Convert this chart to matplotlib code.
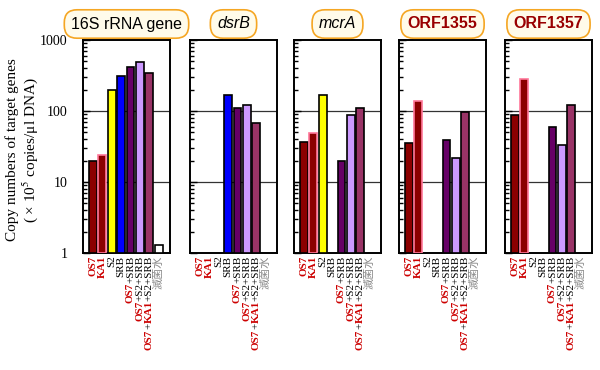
import re
import numpy as np
import matplotlib
matplotlib.use("Agg")
import matplotlib.pyplot as plt
from matplotlib.ticker import LogLocator, NullFormatter, FixedLocator, FixedFormatter

# data (x 10^5 copies / ul DNA)
categories = ["OS7", "KA1", "S2", "SRB", "OS7+SRB", "OS7+S2+SRB", "OS7+KA1+S2+SRB", "滅菌水"]
genes = ["16S rRNA gene", "dsrB", "mcrA", "ORF1355", "ORF1357"]
nan = np.nan
rrna_16s = [20, 24, 200, 308, 410, 495, 345, 1.3]
dsrb = [nan, nan, nan, 170, 110, 120, 68, nan]
mcra = [37, 49, 170, nan, 20, 87, 110, nan]
orf1355 = [36, 138, nan, nan, 39, 22, 97, nan]
orf1357 = [87, 285, nan, nan, 60, 33, 120, nan]
values = [rrna_16s, dsrb, mcra, orf1355, orf1357]

bar_colors = ["#8B0000", "#8B0000", "#FFFF00", "#0000FF", "#660066", "#CC99FF", "#993366", "#FFFFFF"]
edge_colors = ["black", "#FF7799", "black", "black", "black", "black", "black", "black"]

plt.rcParams["mathtext.fontset"] = "stix"
serif = ["Liberation Serif", "Noto Sans CJK JP", "DejaVu Serif"]
red = "#CC0000"

W, H = 600, 370
fig = plt.figure(figsize=(6, 3.7), dpi=100)

lefts = [83, 190, 294, 399, 505]
pw = 87
top_px, bot_px = 40, 253


def title_style(g):
    if g.startswith("ORF"):
        return dict(color="#990000", fontweight="bold", family="Liberation Sans")
    if g in ("dsrB", "mcrA"):
        return dict(color="black", fontstyle="italic", family="Liberation Sans")
    return dict(color="black", family="Liberation Sans")


def draw_label(ax, x, name):
    parts = [p for p in re.split(r"(OS7|KA1)", name) if p]
    prev = None
    for p in reversed(parts):
        if p in ("OS7", "KA1"):
            kw = dict(color=red, fontweight="bold")
        elif p == "滅菌水":
            kw = dict(color="#888888")
        else:
            kw = dict(color="black")
        if prev is None:
            prev = ax.text(x, -0.012, p, transform=ax.get_xaxis_transform(),
                           rotation=90, ha="center", va="top", fontsize=8,
                           family=serif, **kw)
        else:
            prev = ax.annotate(p, xy=(0.5, 0), xycoords=prev, rotation=90,
                               ha="center", va="top", fontsize=8,
                               family=serif, **kw)


x = np.arange(len(categories))
for i, (g, vals) in enumerate(zip(genes, values)):
    ax = fig.add_axes([lefts[i] / W, 1 - bot_px / H, pw / W, (bot_px - top_px) / H])
    ax.set_yscale("log")
    vals = np.array(vals, dtype=float)
    ax.bar(x, vals - 1, bottom=1, width=0.85, color=bar_colors,
           edgecolor=edge_colors, linewidth=1.2, zorder=3)
    ax.axhline(10, color="#333333", linewidth=0.9, zorder=1)
    ax.axhline(100, color="#333333", linewidth=0.9, zorder=1)
    ax.set_ylim(1, 1000)
    ax.set_xlim(-1.05, 8.2)
    ax.set_xticks([])
    ax.yaxis.set_major_locator(FixedLocator([1, 10, 100, 1000]))
    ax.yaxis.set_minor_locator(LogLocator(base=10, subs=np.arange(2, 10)))
    ax.yaxis.set_minor_formatter(NullFormatter())
    ax.tick_params(axis="y", which="major", direction="in", length=5, width=1, pad=11)
    ax.tick_params(axis="y", which="minor", direction="in", length=3, width=1)
    if i == 0:
        ax.yaxis.set_major_formatter(FixedFormatter(["1", "10", "100", "1000"]))
        for lab in ax.get_yticklabels():
            lab.set_family(serif)
            lab.set_fontsize(10)
    else:
        ax.set_yticklabels([])
    for s in ax.spines.values():
        s.set_linewidth(1.4)
    for xi, name in zip(x, categories):
        draw_label(ax, xi, name)
    cx = (lefts[i] + pw / 2) / W
    fig.text(cx, 1 - 24 / H, g, ha="center", va="center", fontsize=11.5,
             bbox=dict(boxstyle="round,pad=0.42,rounding_size=0.8",
                       facecolor="#FFFBEA", edgecolor="#F5A623", linewidth=1.2),
             **title_style(g))

fig.text(12 / W, 1 - 150 / H, "Copy numbers of target genes", rotation=90,
         ha="center", va="center", fontsize=11, family=serif)
fig.text(30 / W, 1 - 150 / H, "( × 10$^5$ copies/μl DNA)", rotation=90,
         ha="center", va="center", fontsize=11, family=serif)

fig.savefig("out.png", dpi=100)
